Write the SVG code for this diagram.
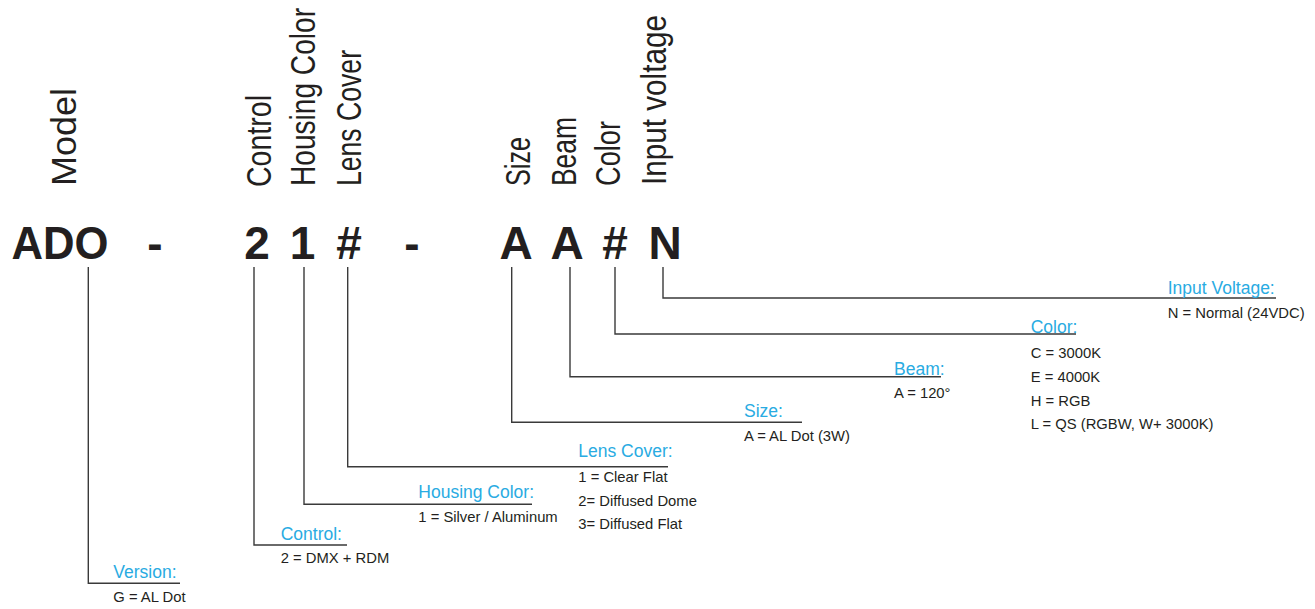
<svg xmlns="http://www.w3.org/2000/svg" width="1315" height="609" viewBox="0 0 1315 609">
<style>
text{font-family:"Liberation Sans",Arial,sans-serif;}
.code{font-weight:bold;font-size:46px;fill:#231f20;text-anchor:middle;}
.vt{font-size:35px;fill:#231f20;}
.lbl{font-size:17.5px;fill:#29abe2;}
.dsc{font-size:14.8px;fill:#231f20;}
.ln{fill:none;stroke:#3a3a3a;stroke-width:1.4;}
</style>
<rect width="1315" height="609" fill="#fff"/>
<g id="connectors">
<path class="ln" d="M88.3,267 V583.3 H180"/>
<path class="ln" d="M254,267 V545 H347"/>
<path class="ln" d="M304,267 V504.3 H532"/>
<path class="ln" d="M347.7,267 V466.7 H668"/>
<path class="ln" d="M511.7,267 V422.3 H802"/>
<path class="ln" d="M570,267 V376.7 H941"/>
<path class="ln" d="M615,267 V334 H1076"/>
<path class="ln" d="M663,267 V298 H1276"/>
</g>
<g id="dashes">
<text class="code" x="155" y="258.5">-</text>
<text class="code" x="412" y="258.5">-</text>
</g>
<g id="model">
<text class="code" x="60" y="258.5" textLength="97" lengthAdjust="spacingAndGlyphs">ADO</text>
<text class="vt" transform="translate(76,186) rotate(-90)" textLength="98" lengthAdjust="spacingAndGlyphs">Model</text>
<text class="lbl" x="113.3" y="578.3">Version:</text>
<text class="dsc" x="113.3" y="601.5">G = AL Dot</text>
</g>
<g id="control">
<text class="code" x="257" y="258.5">2</text>
<text class="vt" transform="translate(271,187) rotate(-90)" textLength="92" lengthAdjust="spacingAndGlyphs">Control</text>
<text class="lbl" x="280.7" y="540">Control:</text>
<text class="dsc" x="280.7" y="563.3">2 = DMX + RDM</text>
</g>
<g id="housing-color">
<text class="code" x="302.5" y="258.5">1</text>
<text class="vt" transform="translate(315,186) rotate(-90)" textLength="178" lengthAdjust="spacingAndGlyphs">Housing Color</text>
<text class="lbl" x="418.3" y="498.3">Housing Color:</text>
<text class="dsc" x="418.3" y="521.7">1 = Silver / Aluminum</text>
</g>
<g id="lens-cover">
<text class="code" x="349" y="258.5">#</text>
<text class="vt" transform="translate(361,186) rotate(-90)" textLength="136" lengthAdjust="spacingAndGlyphs">Lens Cover</text>
<text class="lbl" x="578.3" y="457.3">Lens Cover:</text>
<text class="dsc" x="578.3" y="481.7">1 = Clear Flat</text>
<text class="dsc" x="578.3" y="505.7">2= Diffused Dome</text>
<text class="dsc" x="578.3" y="529.3">3= Diffused Flat</text>
</g>
<g id="size">
<text class="code" x="516" y="258.5">A</text>
<text class="vt" transform="translate(530,186) rotate(-90)" textLength="49" lengthAdjust="spacingAndGlyphs">Size</text>
<text class="lbl" x="744" y="416.7">Size:</text>
<text class="dsc" x="744" y="440.5">A = AL Dot (3W)</text>
</g>
<g id="beam">
<text class="code" x="567" y="258.5">A</text>
<text class="vt" transform="translate(576,186) rotate(-90)" textLength="69" lengthAdjust="spacingAndGlyphs">Beam</text>
<text class="lbl" x="894" y="375">Beam:</text>
<text class="dsc" x="894" y="398.3">A = 120°</text>
</g>
<g id="color">
<text class="code" x="615" y="258.5">#</text>
<text class="vt" transform="translate(620,186) rotate(-90)" textLength="65" lengthAdjust="spacingAndGlyphs">Color</text>
<text class="lbl" x="1030.7" y="333.3">Color:</text>
<text class="dsc" x="1030.7" y="357.7">C = 3000K</text>
<text class="dsc" x="1030.7" y="381.7">E = 4000K</text>
<text class="dsc" x="1030.7" y="405.7">H = RGB</text>
<text class="dsc" x="1030.7" y="429.3">L = QS (RGBW, W+ 3000K)</text>
</g>
<g id="input-voltage">
<text class="code" x="665" y="258.5">N</text>
<text class="vt" transform="translate(666,185) rotate(-90)" textLength="170" lengthAdjust="spacingAndGlyphs">Input voltage</text>
<text class="lbl" x="1167.7" y="294.3">Input Voltage:</text>
<text class="dsc" x="1167.7" y="318.3">N = Normal (24VDC)</text>
</g>
</svg>
